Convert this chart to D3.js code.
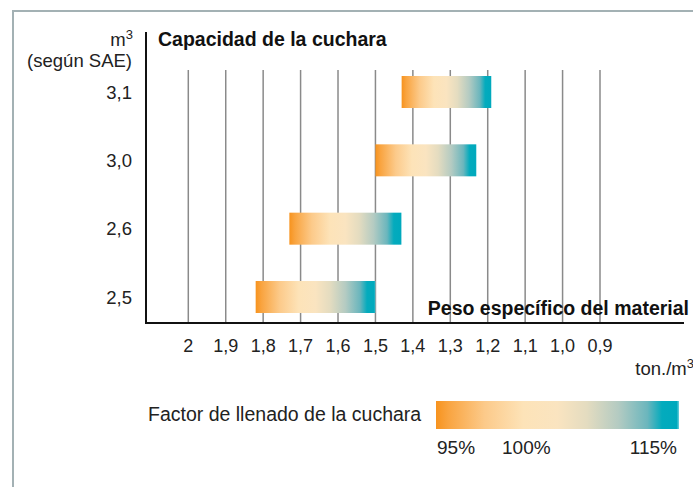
<!DOCTYPE html>
<html>
<head>
<meta charset="utf-8">
<script src="https://cdn.jsdelivr.net/npm/d3@7"></script>
<style>
  html, body { margin: 0; padding: 0; background: #fff; }
  svg { display: block; font-family: "Liberation Sans", Arial, Helvetica, sans-serif; }
</style>
</head>
<body>
<div id="vis"></div>
<script>
// Bucket capacity (m³, SAE) vs. material density range (ton/m³), shaded by fill factor.

const CAPACITIES   = ["3,1", "3,0", "2,6", "2,5"];
const DENSITY_HIGH = [1.43, 1.50, 1.73, 1.82];   // left edge of bar (95 % fill)
const DENSITY_LOW  = [1.19, 1.23, 1.43, 1.50];   // right edge of bar (115 % fill)

const TICK_VALUES = [2, 1.9, 1.8, 1.7, 1.6, 1.5, 1.4, 1.3, 1.2, 1.1, 1.0, 0.9];
const TICK_LABELS = ["2", "1,9", "1,8", "1,7", "1,6", "1,5", "1,4", "1,3", "1,2", "1,1", "1,0", "0,9"];

const LEGEND_LABELS = ["95%", "100%", "115%"];

const W = 693, H = 487;
const FONT_TITLE = 19.5, FONT_LABEL = 18.5, FONT_TICK = 18;

const GRADIENT = [
  [0.00, "#f7931e"],
  [0.05, "#f9a440"],
  [0.20, "#fcca8a"],
  [0.36, "#fde3b8"],
  [0.50, "#fae4c0"],
  [0.62, "#e4dcc0"],
  [0.75, "#b4cbc2"],
  [0.87, "#6bb6bd"],
  [0.93, "#04abbd"],
  [0.99, "#00a9bd"],
  [1.00, "#6fcfdb"],
];

const svg = d3.select("#vis").append("svg")
  .attr("width", W)
  .attr("height", H);

svg.append("rect").attr("width", W).attr("height", H).attr("fill", "#fff");

const defs = svg.append("defs");
const grad = defs.append("linearGradient").attr("id", "fill-grad")
  .attr("x1", "0%").attr("x2", "100%").attr("y1", "0%").attr("y2", "0%");
grad.selectAll("stop").data(GRADIENT).join("stop")
  .attr("offset", d => d[0])
  .attr("stop-color", d => d[1]);

// ── Frame ─────────────────────────────────────────────────────────────────
svg.append("path")
  .attr("d", `M13,${H} L13,11 L${W},11`)
  .attr("fill", "none")
  .attr("stroke", "#a3b1b4")
  .attr("stroke-width", 2);

// ── Scales ────────────────────────────────────────────────────────────────
const x = d3.scaleLinear().domain([2, 0.9]).range([188.3, 600]);
const y = d3.scalePoint().domain(CAPACITIES).range([92, 297]);

const axisX0 = 146, axisX1 = 684, axisY = 323, gridTop = 70;
const BAR_H = 32;

// Gridlines
svg.append("g")
  .selectAll("line")
  .data(TICK_VALUES)
  .join("line")
    .attr("x1", d => x(d)).attr("x2", d => x(d))
    .attr("y1", gridTop).attr("y2", axisY)
    .attr("stroke", "#8a8a8a")
    .attr("stroke-width", 1.5);

// Bars
svg.append("g")
  .selectAll("rect")
  .data(CAPACITIES)
  .join("rect")
    .attr("x", (d, i) => x(DENSITY_HIGH[i]))
    .attr("width", (d, i) => x(DENSITY_LOW[i]) - x(DENSITY_HIGH[i]))
    .attr("y", d => y(d) - BAR_H / 2)
    .attr("height", BAR_H)
    .attr("fill", "url(#fill-grad)");

// Axis lines
svg.append("line")
  .attr("x1", axisX0).attr("x2", axisX0)
  .attr("y1", 32).attr("y2", axisY + 1)
  .attr("stroke", "#111").attr("stroke-width", 2);
svg.append("line")
  .attr("x1", axisX0 - 1).attr("x2", axisX1)
  .attr("y1", axisY).attr("y2", axisY)
  .attr("stroke", "#111").attr("stroke-width", 2);

// X tick labels
svg.append("g")
  .selectAll("text")
  .data(TICK_VALUES)
  .join("text")
    .attr("x", d => x(d))
    .attr("y", 352)
    .attr("text-anchor", "middle")
    .attr("font-size", FONT_TICK)
    .attr("fill", "#222")
    .text((d, i) => TICK_LABELS[i]);

// Y labels
svg.append("g")
  .selectAll("text")
  .data(CAPACITIES)
  .join("text")
    .attr("x", 132)
    .attr("y", d => y(d) + 6.5)
    .attr("text-anchor", "end")
    .attr("font-size", FONT_LABEL)
    .attr("fill", "#222")
    .text(d => d);

// Y-axis unit
const unit = svg.append("text")
  .attr("x", 133).attr("y", 46)
  .attr("text-anchor", "end")
  .attr("font-size", FONT_LABEL)
  .attr("fill", "#222");
unit.append("tspan").text("m");
unit.append("tspan").attr("dy", -7).attr("font-size", 13).text("3");

svg.append("text")
  .attr("x", 132).attr("y", 67)
  .attr("text-anchor", "end")
  .attr("font-size", FONT_LABEL)
  .attr("fill", "#222")
  .text("(según SAE)");

// Titles
svg.append("text")
  .attr("x", 158).attr("y", 46)
  .attr("font-size", FONT_TITLE)
  .attr("font-weight", "bold")
  .attr("fill", "#111")
  .text("Capacidad de la cuchara");

svg.append("text")
  .attr("x", 689).attr("y", 315)
  .attr("text-anchor", "end")
  .attr("font-size", FONT_TITLE)
  .attr("font-weight", "bold")
  .attr("fill", "#111")
  .text("Peso específico del material");

const tu = svg.append("text")
  .attr("x", 694).attr("y", 375)
  .attr("text-anchor", "end")
  .attr("font-size", FONT_LABEL)
  .attr("fill", "#222");
tu.append("tspan").text("ton./m");
tu.append("tspan").attr("dy", -7).attr("font-size", 13).text("3");

// ── Legend ────────────────────────────────────────────────────────────────
svg.append("text")
  .attr("x", 148).attr("y", 421)
  .attr("font-size", FONT_TITLE)
  .attr("fill", "#222")
  .text("Factor de llenado de la cuchara");

svg.append("rect")
  .attr("x", 436).attr("y", 401)
  .attr("width", 243).attr("height", 28)
  .attr("fill", "url(#fill-grad)");

const legendPos = [
  { x: 437, anchor: "start" },
  { x: 502, anchor: "start" },
  { x: 677, anchor: "end" },
];
svg.append("g")
  .selectAll("text")
  .data(LEGEND_LABELS)
  .join("text")
    .attr("x", (d, i) => legendPos[i].x)
    .attr("y", 454)
    .attr("text-anchor", (d, i) => legendPos[i].anchor)
    .attr("font-size", 19)
    .attr("fill", "#222")
    .text(d => d);
</script>
</body>
</html>
